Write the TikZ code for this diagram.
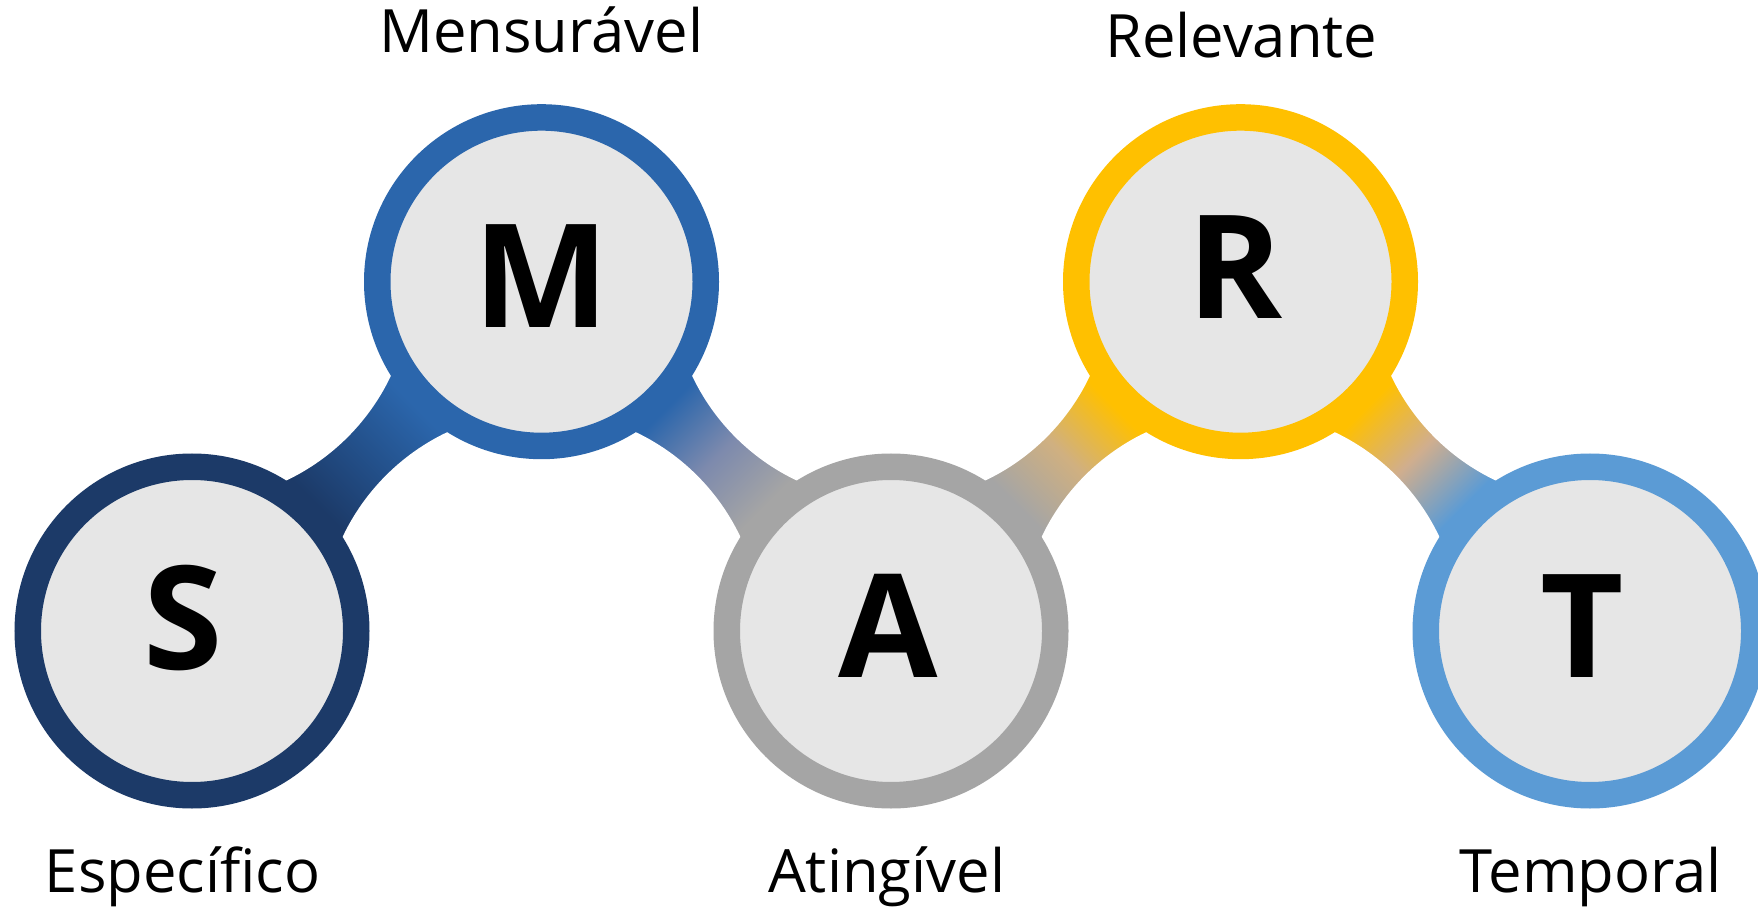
\documentclass[tikz,border=0pt]{standalone}
\usepackage{fontspec}
\setmainfont{Open Sans}
\usetikzlibrary{backgrounds}
\definecolor{cS}{HTML}{1C3A68}
\definecolor{cM}{HTML}{2B66AC}
\definecolor{cA}{HTML}{A5A5A5}
\definecolor{cR}{HTML}{FFC000}
\definecolor{cT}{HTML}{5B9BD5}
\definecolor{ringfill}{HTML}{E6E6E6}
\definecolor{midSM}{HTML}{23508A}
\definecolor{midMA}{HTML}{7D8AAD}
\definecolor{midAR}{HTML}{D0B080}
\definecolor{midRT}{HTML}{D0AE8E}
\colorlet{neckbot}{black}
\colorlet{neckmid}{gray}
\colorlet{necktop}{white}
\pgfdeclareverticalshading[neckbot,neckmid,necktop]{neck}{100bp}{color(0bp)=(neckbot); color(40bp)=(neckbot); color(50bp)=(neckmid); color(60bp)=(necktop); color(100bp)=(necktop)}
\tikzset{
  ring/.style={circle, minimum size=3.285cm, inner sep=0pt, line width=2.65mm, fill=ringfill, font=\bfseries\fontsize{41pt}{48pt}\selectfont, text height=1.04cm, text depth=0.12cm},
  tag/.style={anchor=base, inner sep=0pt, font=\fontsize{17pt}{20pt}\selectfont},
  gap/.style={fill=white}
}

\begin{document}
\begin{tikzpicture}
	\useasboundingbox (0,0) rectangle (17.58,9.06);
	\node[ring, draw=cS] (S) at (1.92,2.75) {\kern-0.18cm\raisebox{0.08cm}{S}};
	\node[ring, draw=cM] (M) at (5.415,6.243) {M};
	\node[ring, draw=cA] (A) at (8.91,2.75) {\kern-0.05cm A};
	\node[ring, draw=cR] (R) at (12.405,6.243) {\kern-0.1cm\raisebox{0.09cm}{R}};
	\node[ring, draw=cT] (T) at (15.90,2.75) {\kern-0.16cm T};
	\node[tag] (spec) at (1.825,0.133) {Específico};
	\node[tag] (mens) at (5.413,8.533) {Mensurável};
	\node[tag] (ating) at (8.867,0.14) {Atingível};
	\node[tag] (relev) at (12.413,8.487) {Relevante};
	\node[tag] (temp) at (15.908,0.133) {Temporal};
	\begin{scope}[on background layer]
	\fill[white] (0,0) rectangle (17.58,9.06);
	% necks
	\colorlet{neckbot}{cS}\colorlet{neckmid}{midSM}\colorlet{necktop}{cM}
	\shade[shading=neck, shading angle=-45] (S.center) rectangle (M.center);
	\colorlet{neckbot}{cA}\colorlet{neckmid}{midMA}\colorlet{necktop}{cM}
	\shade[shading=neck, shading angle=45] (M.center) rectangle (A.center);
	\colorlet{neckbot}{cA}\colorlet{neckmid}{midAR}\colorlet{necktop}{cR}
	\shade[shading=neck, shading angle=-45] (A.center) rectangle (R.center);
	\colorlet{neckbot}{cT}\colorlet{neckmid}{midRT}\colorlet{necktop}{cR}
	\shade[shading=neck, shading angle=45] (R.center) rectangle (T.center);
	% white gaps between the necks
	\fill[gap] (S.center |- M.center) circle (2.2) (M.center |- S.center) circle (2.2)
	  (A.center |- M.center) circle (2.2) (R.center |- S.center) circle (2.2)
	  (T.center |- M.center) circle (2.2);
	\end{scope}
\end{tikzpicture}
\end{document}
